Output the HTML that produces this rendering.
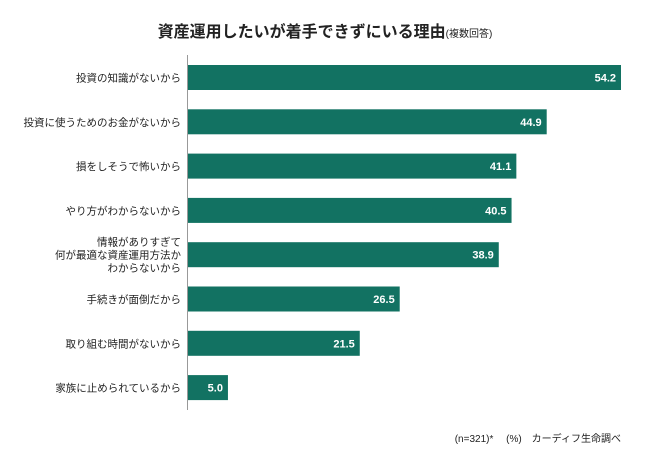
<!DOCTYPE html>
<html><head><meta charset="utf-8"><style>
body{margin:0;width:650px;height:465px;background:#fff;font-family:"Liberation Sans","Noto Sans CJK JP",sans-serif;overflow:hidden}
</style></head><body>
<svg width="650" height="465" id="c" xmlns="http://www.w3.org/2000/svg">
<text x="325" y="37" text-anchor="middle" font-size="16" font-weight="bold" fill="#222">資産運用したいが着手できずにいる理由<tspan font-size="10" font-weight="normal">(複数回答)</tspan></text>
<line x1="187.5" y1="55" x2="187.5" y2="410" stroke="#999" stroke-width="1"/>
<text x="621" y="442" text-anchor="end" font-size="10" fill="#222">(n=321)*　 (%)　カーディフ生命調べ</text>
</svg>
<script>
const categories=[["投資の知識がないから"],["投資に使うためのお金がないから"],["損をしそうで怖いから"],["やり方がわからないから"],["情報がありすぎて","何が最適な資産運用方法か","わからないから"],["手続きが面倒だから"],["取り組む時間がないから"],["家族に止められているから"]];
const values=[54.2,44.9,41.1,40.5,38.9,26.5,21.5,5.0];
const labels=["54.2","44.9","41.1","40.5","38.9","26.5","21.5","5.0"];
const svg=document.getElementById('c');
const NS="http://www.w3.org/2000/svg";
const x0=188, pxPer=(621-188)/54.2;
const xs=v=>x0+v*pxPer;
const ys=i=>65+i*44.3;
const bh=25;
values.forEach((v,i)=>{
  const r=document.createElementNS(NS,'rect');
  r.setAttribute('x',x0);r.setAttribute('y',ys(i));
  r.setAttribute('width',xs(v)-x0);r.setAttribute('height',bh);
  r.setAttribute('fill','#127262');
  
  
  svg.appendChild(r);
  const t=document.createElementNS(NS,'text');
  t.setAttribute('x',xs(v)-5);t.setAttribute('y',ys(i)+bh/2+4);
  t.setAttribute('text-anchor','end');t.setAttribute('font-size','11');
  t.setAttribute('font-weight','bold');t.setAttribute('fill','#fff');
  t.textContent=labels[i];
  
  
  svg.appendChild(t);
  const lines=categories[i];
  const lh=13;
  lines.forEach((s,k)=>{
    const c=document.createElementNS(NS,'text');
    c.setAttribute('x',181);
    c.setAttribute('y',ys(i)+bh/2+4+(k-(lines.length-1)/2)*lh);
    c.setAttribute('text-anchor','end');c.setAttribute('font-size','10.5');
    c.setAttribute('fill','#222');
    c.textContent=s;
    
    
    svg.appendChild(c);
  });
});
</script>
</body></html>
